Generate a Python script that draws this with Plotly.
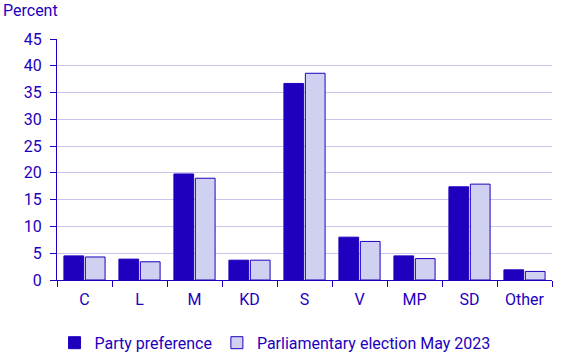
import plotly.graph_objects as go

categories = ["C", "L", "M", "KD", "S", "V", "MP", "SD", "Other"]
party_preference = [4.5, 3.9, 19.8, 3.7, 36.7, 8.0, 4.5, 17.4, 1.9]
election_may_2023 = [4.3, 3.4, 19.0, 3.7, 38.6, 7.2, 4.0, 17.9, 1.6]
y_ticks = [0, 5, 10, 15, 20, 25, 30, 35, 40, 45]

DARK = "#1e00be"
LIGHT = "#d0d0f0"
GRID = "#c6c6ee"
FONT = "Roboto"

L, R, T, B = 57, 16, 39, 84
W, H = 568, 364
PW, PH = W - L - R, H - T - B

fig = go.Figure()
fig.add_trace(go.Bar(
    x=categories, y=party_preference, name="Party preference",
    marker=dict(color=DARK, line=dict(color=DARK, width=1)),
))
fig.add_trace(go.Bar(
    x=categories, y=election_may_2023, name="Parliamentary election May 2023",
    marker=dict(color=LIGHT, line=dict(color=DARK, width=1)),
))

fig.add_annotation(
    text="Percent", xref="paper", yref="paper",
    x=-(L - 1) / PW, xanchor="left", y=1 + 28 / PH, yanchor="middle",
    showarrow=False, font=dict(family=FONT, size=16, color=DARK),
)

fig.update_layout(
    width=W, height=H,
    margin=dict(l=L, r=R, t=T, b=B, autoexpand=False),
    paper_bgcolor="white", plot_bgcolor="white",
    font=dict(family=FONT, size=16, color=DARK),
    barmode="group", bargap=0.22, bargroupgap=0.08,
    legend=dict(orientation="h", x=-0.005, xanchor="left", y=-0.19, yanchor="top",
                font=dict(family=FONT, size=16, color=DARK), itemwidth=30,
                traceorder="normal"),
    showlegend=True,
)
fig.update_xaxes(
    showline=True, linecolor=DARK, linewidth=1, automargin=False,
    ticks="outside", tickson="boundaries", ticklen=6, tickcolor=DARK,
    ticklabelstandoff=5,
    showgrid=False, tickfont=dict(size=16, color=DARK),
)
fig.update_yaxes(
    range=[0, 45], tickvals=y_ticks, showline=True, linecolor=DARK, linewidth=1,
    automargin=False,
    ticks="outside", ticklen=6, tickcolor=DARK, ticklabelstandoff=5,
    showgrid=True, gridcolor=GRID, gridwidth=1, zeroline=False,
    tickfont=dict(size=16, color=DARK),
)

fig.write_html("out.html", config={"displayModeBar": False},
               post_script="document.body.style.margin='0px';")
